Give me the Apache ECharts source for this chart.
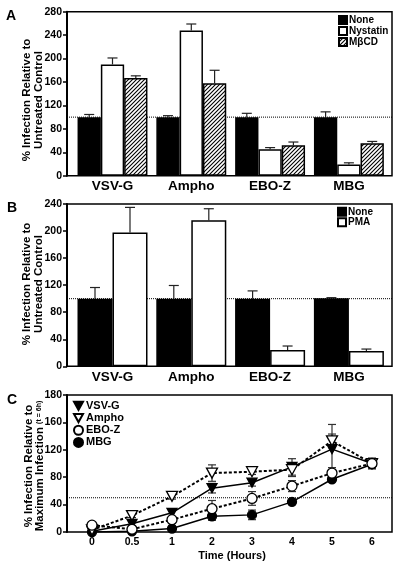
<!DOCTYPE html>
<html><head><meta charset="utf-8">
<script src="https://cdn.jsdelivr.net/npm/echarts@6/dist/echarts.min.js"></script>
<style>html,body{margin:0;padding:0;background:#fff}#c{width:400px;height:565px}</style>
</head><body><div id="c"></div>
<script>
// ---------- DATA ----------
const viruses = ['VSV-G', 'Ampho', 'EBO-Z', 'MBG'];
// Panel A
const aNone = [100, 100, 100, 100];
const aNoneErr = [4.5, 2.5, 6.5, 9];
const aNystatin = [190, 248, 45, 19];
const aNystatinErr = [11, 11, 3, 3];
const aMbcd = [167, 158, 52, 55.5];
const aMbcdErr = [3.5, 22, 5.5, 3];
// Panel B
const bNone = [100, 100, 100, 100.5];
const bNoneErr = [16.5, 19.5, 11.5, 1];
const bPma = [198, 216, 24, 22.5];
const bPmaErr = [37, 17, 6, 3];
// Panel C
const hours = ['0', '0.5', '1', '2', '3', '4', '5', '6'];
const cVsvg = [1, 12, 28, 64, 72, 95, 121, 100];
const cVsvgErr = [1, 3, 6, 7, 5, 12, 36, 8];
const cAmpho = [3, 24, 52, 86, 88, 91, 133, 100];
const cAmphoErr = [2, 3, 4, 12, 4, 10, 10, 5];
const cEboz = [10, 4, 18, 34, 49, 67, 86, 100];
const cEbozErr = [3, 2, 4, 12, 10, 8, 8, 7];
const cMbg = [0, 1, 5, 23, 25, 44, 77, 99];
const cMbgErr = [2, 1, 3, 6, 7, 4, 3, 4];
const cTickLabels = ['0', '40', '80', '120', '160', '180'];
const refA = 100, refB = 100, refC = 50;

// ---------- STYLE ----------
const FONT = '"Liberation Sans", Arial, Helvetica, sans-serif';
const TRI = 'path://M0,0L10,0L5,9Z';
function hatch() {
  const c = document.createElement('canvas');
  c.width = 4; c.height = 4;
  const g = c.getContext('2d');
  g.fillStyle = '#fff'; g.fillRect(0, 0, 4, 4);
  g.strokeStyle = '#000'; g.lineWidth = 1.1;
  g.beginPath();
  g.moveTo(-1, 5); g.lineTo(5, -1);
  g.moveTo(-1, 1); g.lineTo(1, -1);
  g.moveTo(3, 5); g.lineTo(5, 3);
  g.stroke();
  return c;
}
const chart = echarts.init(document.getElementById('c'), null, {renderer: 'canvas'});

function frameGrid(top, height) {
  return {left: 67, right: 8, top: top, height: height, show: true, borderColor: '#000', borderWidth: 1.5, backgroundColor: 'transparent'};
}
function dataGrid(left, right, top, height) {
  return {left: left, right: right, top: top, height: height};
}
function frameY(gi, max, fmt) {
  return {gridIndex: gi, type: 'value', min: 0, max: max, interval: 40,
    axisLine: {show: true, lineStyle: {color: '#000', width: 2}},
    axisTick: {show: true, length: 4, lineStyle: {color: '#000', width: 1.5}},
    axisLabel: {color: '#000', fontSize: 10.5, fontWeight: 'bold', fontFamily: FONT, margin: 5, formatter: fmt},
    splitLine: {show: false}};
}
function hiddenX(gi) { return {gridIndex: gi, type: 'value', min: 0, max: 1, show: false}; }
function hiddenY(gi, max) { return {gridIndex: gi, type: 'value', min: 0, max: max, show: false}; }
function catX(gi, data, fs) {
  return {gridIndex: gi, type: 'category', data: data,
    axisLine: {show: false}, axisTick: {show: false},
    axisLabel: {color: '#000', fontSize: fs, fontWeight: 'bold', fontFamily: FONT, margin: 4}};
}
function refLine(ai, v) {
  return {type: 'line', xAxisIndex: ai, yAxisIndex: ai, data: [[0, v], [1, v]], symbol: 'none', silent: true,
    lineStyle: {color: '#000', width: 1, type: 'dotted'}, z: 1};
}
function bar(ai, name, data, width, itemStyle) {
  return {type: 'bar', name: name, xAxisIndex: ai, yAxisIndex: ai, data: data, barWidth: width, barGap: '0%',
    itemStyle: Object.assign({borderColor: '#000', borderWidth: 1.5}, itemStyle), z: 3, silent: true};
}
function barErr(ai, vals, errs, idx, n, width) {
  return {type: 'custom', xAxisIndex: ai, yAxisIndex: ai, z: 2, silent: true,
    data: vals.map((v, i) => [i, v, errs[i]]),
    encode: {x: 0, y: 1},
    renderItem: function (params, api) {
      const i = api.value(0), v = api.value(1), e = api.value(2);
      const c = api.coord([i, v]), t = api.coord([i, v + e]);
      const x = c[0] + (idx - (n - 1) / 2) * width;
      const st = {stroke: '#222', lineWidth: 1.2};
      return {type: 'group', children: [
        {type: 'line', shape: {x1: x, y1: c[1], x2: x, y2: t[1]}, style: st},
        {type: 'line', shape: {x1: x - 5, y1: t[1], x2: x + 5, y2: t[1]}, style: st}
      ]};
    }};
}
function lineErr(ai, vals, errs) {
  return {type: 'custom', xAxisIndex: ai, yAxisIndex: ai, z: 2, silent: true,
    data: vals.map((v, i) => [i, v, errs[i]]),
    encode: {x: 0, y: 1},
    renderItem: function (params, api) {
      const i = api.value(0), v = api.value(1), e = api.value(2);
      const t = api.coord([i, v + e]), b = api.coord([i, v - e]);
      const x = t[0];
      const st = {stroke: '#333', lineWidth: 1.2};
      return {type: 'group', children: [
        {type: 'line', shape: {x1: x, y1: t[1], x2: x, y2: b[1]}, style: st},
        {type: 'line', shape: {x1: x - 4, y1: t[1], x2: x + 4, y2: t[1]}, style: st},
        {type: 'line', shape: {x1: x - 4, y1: b[1], x2: x + 4, y2: b[1]}, style: st}
      ]};
    }};
}
function lineSeries(name, data, symbol, size, fill, dashed) {
  return {type: 'line', name: name, xAxisIndex: 5, yAxisIndex: 5, data: data, symbol: symbol, symbolSize: size,
    itemStyle: {color: fill, borderColor: '#000', borderWidth: 1.3},
    lineStyle: {color: '#000', width: dashed ? 2 : 1.5, type: dashed ? [3, 2] : 'solid'}, z: 4, silent: true};
}
const legendText = {color: '#000', fontWeight: 'bold', fontFamily: FONT};

const option = {
  animation: false,
  grid: [
    frameGrid(11.7, 164), dataGrid(73.1, 11.7, 11.7, 164),
    frameGrid(204, 162.3), dataGrid(73.1, 11.7, 204, 162.3),
    frameGrid(395, 137), dataGrid(72, 8, 395, 137)
  ],
  xAxis: [
    hiddenX(0), catX(1, viruses, 13.5),
    hiddenX(2), catX(3, viruses, 13.5),
    hiddenX(4),
    Object.assign(catX(5, hours, 10.5), {
      axisLabel: {color: '#000', fontSize: 10.5, fontWeight: 'bold', fontFamily: FONT, margin: 5},
      name: 'Time (Hours)', nameLocation: 'middle', nameGap: 18,
      nameTextStyle: {color: '#000', fontSize: 11, fontWeight: 'bold', fontFamily: FONT}
    })
  ],
  yAxis: [
    frameY(0, 280), hiddenY(1, 280),
    frameY(2, 240), hiddenY(3, 240),
    frameY(4, 200, function (v) { return cTickLabels[Math.round(v / 40)]; }), hiddenY(5, 200)
  ],
  legend: [
    {data: [{name: 'None', icon: 'rect'}, {name: 'Nystatin', icon: 'rect'}, {name: 'MβCD', icon: 'rect'}],
     orient: 'vertical', left: 338, top: 14.5, itemWidth: 8, itemHeight: 8, itemGap: 0, padding: 0,
     selectedMode: false, textStyle: Object.assign({fontSize: 10, lineHeight: 11, padding: [0, 0, 0, -3]}, legendText)},
    {data: [{name: 'None', icon: 'rect'}, {name: 'PMA', icon: 'rect'}],
     orient: 'vertical', left: 337, top: 206.5, itemWidth: 8, itemHeight: 8, itemGap: 0, padding: 0,
     selectedMode: false, textStyle: Object.assign({fontSize: 10, lineHeight: 10.5, padding: [0, 0, 0, -3]}, legendText)},
    {data: [{name: 'VSV-G', icon: TRI}, {name: 'Ampho', icon: TRI}, {name: 'EBO-Z', icon: 'circle'}, {name: 'MBG', icon: 'circle'}],
     orient: 'vertical', left: 73, top: 400, itemWidth: 9, itemHeight: 9, itemGap: 0.5, padding: 0,
     selectedMode: false, textStyle: Object.assign({fontSize: 11, lineHeight: 11.7, padding: [0, 0, 0, -2]}, legendText)}
  ],
  graphic: [
    {type: 'text', left: 6, top: 9.5, style: {text: 'A', fontSize: 14, fontWeight: 'bold', fontFamily: FONT, fill: '#000'}},
    {type: 'text', left: 7, top: 201, style: {text: 'B', fontSize: 14, fontWeight: 'bold', fontFamily: FONT, fill: '#000'}},
    {type: 'text', left: 7, top: 393, style: {text: 'C', fontSize: 14, fontWeight: 'bold', fontFamily: FONT, fill: '#000'}},
    {type: 'text', x: 33, y: 100, rotation: Math.PI / 2,
     style: {text: '% Infection Relative to\nUntreated Control', fontSize: 11.5, fontWeight: 'bold', fontFamily: FONT,
             lineHeight: 12, align: 'center', verticalAlign: 'middle', fill: '#000'}},
    {type: 'text', x: 33, y: 284, rotation: Math.PI / 2,
     style: {text: '% Infection Relative to\nUntreated Control', fontSize: 11.5, fontWeight: 'bold', fontFamily: FONT,
             lineHeight: 12, align: 'center', verticalAlign: 'middle', fill: '#000'}},
    {type: 'text', x: 34, y: 466, rotation: Math.PI / 2,
     style: {text: '{a|% Infection Relative to}\n{a|Maximum Infection }{b|(t = 6h)}',
             rich: {a: {fontSize: 11.5, fontWeight: 'bold', fontFamily: FONT, lineHeight: 11, fill: '#000'},
                    b: {fontSize: 7, fontWeight: 'bold', fontFamily: FONT, lineHeight: 11, fill: '#000'}},
             align: 'center', verticalAlign: 'middle', fill: '#000'}}
  ],
  series: [
    refLine(0, refA),
    bar(1, 'None', aNone, 23.3, {color: '#000'}),
    bar(1, 'Nystatin', aNystatin, 23.3, {color: '#fff'}),
    bar(1, 'MβCD', aMbcd, 23.3, {color: {image: hatch(), repeat: 'repeat'}}),
    barErr(1, aNone, aNoneErr, 0, 3, 23.3),
    barErr(1, aNystatin, aNystatinErr, 1, 3, 23.3),
    barErr(1, aMbcd, aMbcdErr, 2, 3, 23.3),

    refLine(2, refB),
    bar(3, 'None', bNone, 35, {color: '#000'}),
    bar(3, 'PMA', bPma, 35, {color: '#fff'}),
    barErr(3, bNone, bNoneErr, 0, 2, 35),
    barErr(3, bPma, bPmaErr, 1, 2, 35),

    refLine(4, refC),
    lineErr(5, cVsvg, cVsvgErr),
    lineErr(5, cAmpho, cAmphoErr),
    lineErr(5, cEboz, cEbozErr),
    lineErr(5, cMbg, cMbgErr),
    lineSeries('MBG', cMbg, 'circle', 9, '#000', false),
    lineSeries('VSV-G', cVsvg, TRI, [10, 9], '#000', false),
    lineSeries('Ampho', cAmpho, TRI, [11, 10], '#fff', true),
    lineSeries('EBO-Z', cEboz, 'circle', 10, '#fff', true)
  ]
};
chart.setOption(option);
</script>
</body></html>
